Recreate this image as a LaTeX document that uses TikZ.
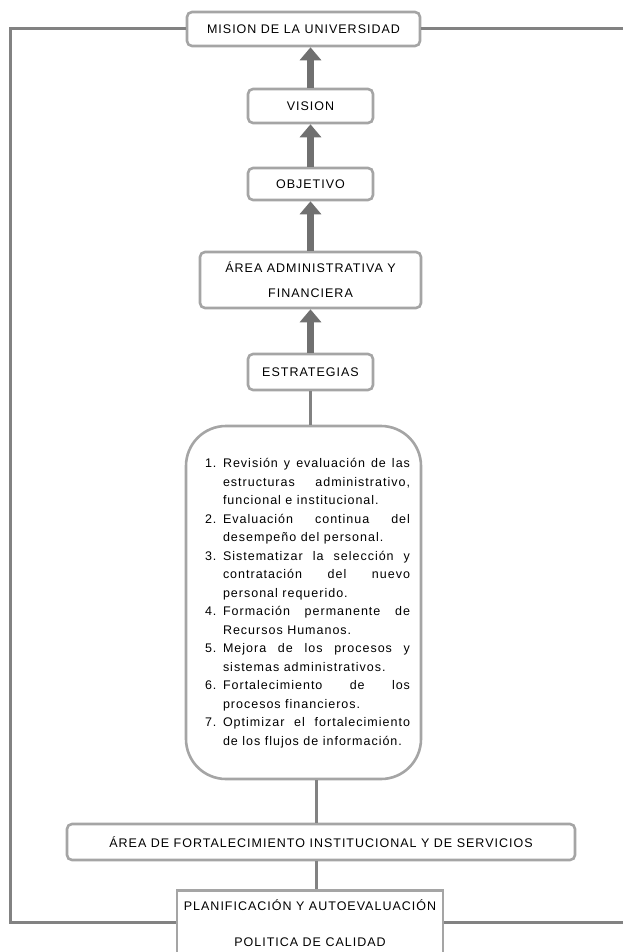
\documentclass[tikz,border=0pt]{standalone}
\usepackage{fontspec}
\setmainfont[LetterSpace=8]{Liberation Sans}
\usetikzlibrary{arrows.meta}
\definecolor{boxgray}{RGB}{165,165,165}
\definecolor{linegray}{RGB}{130,130,130}
\definecolor{arrgray}{RGB}{112,112,112}
\newcommand{\myitem}[2]{\hangindent=18pt\hangafter=1\noindent\makebox[18pt][l]{#1}#2\par}
\begin{document}
\begin{tikzpicture}[x=1pt,y=-1pt,
  box/.style={draw=boxgray, line width=2.6pt, rounded corners=5pt, fill=white,
    font=\fontsize{12.5}{15}\selectfont, align=center, inner sep=0pt},
  conn/.style={draw=linegray, line width=3pt},
  bigarrow/.style={draw=arrgray, line width=7.5pt, -{Triangle[width=21pt,length=13pt]}}]
\useasboundingbox (0,0) rectangle (623,952);
\fill[white] (0,0) rectangle (623,952);

\node[box, minimum width=233pt, minimum height=34pt] (mision) at (303.5,29) {MISION DE LA UNIVERSIDAD};
\node[box, minimum width=125pt, minimum height=34pt] (vision) at (310.5,106) {VISION};
\node[box, minimum width=125pt, minimum height=32pt] (objetivo) at (310.5,184) {OBJETIVO};
\node[box, minimum width=221pt, minimum height=56pt, font=\fontsize{12.5}{25}\selectfont] (admin) at (310.5,280) {ÁREA ADMINISTRATIVA Y\\FINANCIERA};
\node[box, minimum width=125pt, minimum height=36pt] (estr) at (310.5,372) {ESTRATEGIAS};
\node[box, rounded corners=40pt, minimum width=235pt, minimum height=353pt] (big) at (303.5,602.5) {};
\node[anchor=center, text width=205pt, align=justify, inner sep=0pt,
  font=\fontsize{12.5}{18.5}\selectfont] (list) at (307.5,603) {%
\myitem{1.}{Revisión y evaluación de las\linebreak estructuras administrativo,\linebreak funcional e institucional.}
\myitem{2.}{Evaluación continua del\linebreak desempeño del personal.}
\myitem{3.}{Sistematizar la selección y\linebreak contratación del nuevo\linebreak personal requerido.}
\myitem{4.}{Formación permanente de\linebreak Recursos Humanos.}
\myitem{5.}{Mejora de los procesos y\linebreak sistemas administrativos.}
\myitem{6.}{Fortalecimiento de los\linebreak procesos financieros.}
\myitem{7.}{Optimizar el fortalecimiento\linebreak de los flujos de información.}}; 
\node[box, minimum width=508pt, minimum height=36pt] (fort) at (321,842) {ÁREA DE FORTALECIMIENTO INSTITUCIONAL Y DE SERVICIOS};
\node[box, rounded corners=0pt, anchor=north, minimum width=266pt, inner ysep=9pt,
  font=\fontsize{12.5}{36}\selectfont, text depth=30pt] (planif) at (310,889) {PLANIFICACIÓN Y AUTOEVALUACIÓN\\POLITICA DE CALIDAD};

\coordinate (lt) at (10,29);
\coordinate (lb) at (10,922);
\coordinate (rt) at (623,29);
\coordinate (rb) at (623,922);
\coordinate (mid) at (316,0);

\draw[conn] (mision.west) -- (lt) -- (lb) -- (lb -| planif.west);
\draw[conn] (mision.east) -- (rt);
\draw[conn] (rb -| planif.east) -- (rb);

\draw[bigarrow] (vision.north) -- (vision.north |- mision.south);
\draw[bigarrow] (objetivo.north) -- (vision.south);
\draw[bigarrow] (admin.north) -- (objetivo.south);
\draw[bigarrow] (estr.north) -- (admin.south);

\draw[conn] (estr.south) -- (estr.south |- big.north);
\draw[conn] (mid |- big.south) -- (mid |- fort.north);
\draw[conn] (mid |- fort.south) -- (mid |- planif.north);
\end{tikzpicture}
\end{document}
